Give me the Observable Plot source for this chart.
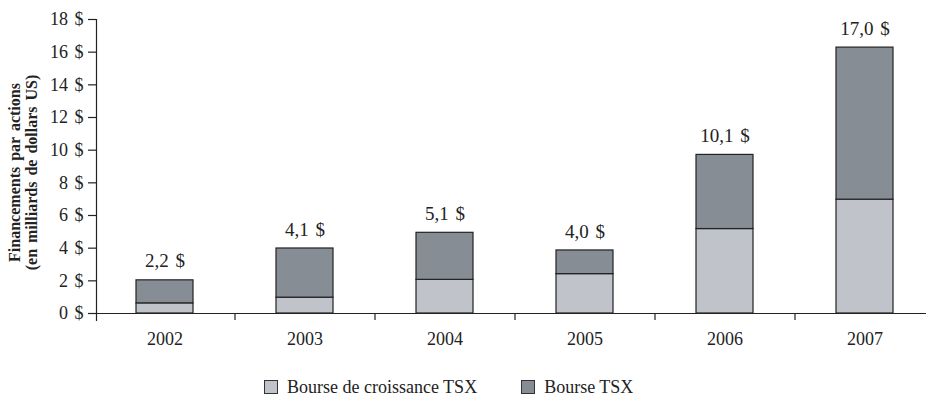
<!DOCTYPE html>
<html>
<head>
<meta charset="utf-8">
<script src="https://cdn.jsdelivr.net/npm/d3@7"></script>
<script src="https://cdn.jsdelivr.net/npm/@observablehq/plot@0.6"></script>
<style>
  html, body { margin: 0; padding: 0; background: #fff; }
  body { width: 926px; font-family: "Liberation Serif", "Times New Roman", serif; color: #222; }
  #chart svg, #chart svg text { font-family: "Liberation Serif", "Times New Roman", serif !important; }
  #chart svg text { word-spacing: 2px; }
  .legend { display: flex; align-items: center; height: 40px; padding-top: 7px; margin-left: 264px; gap: 44px; font-size: 18px; }
  .legend .item { display: flex; align-items: center; gap: 9px; }
  .legend .sw { width: 14px; height: 14px; border: 1px solid #333; box-sizing: border-box; }
</style>
</head>
<body>
<div id="chart"></div>
<div class="legend" id="legend"></div>
<script>
const years = ["2002", "2003", "2004", "2005", "2006", "2007"];
const seriesNames = ["Bourse de croissance TSX", "Bourse TSX"];
const croissanceValues = [0.62, 0.97, 2.06, 2.41, 5.17, 6.97];
const tsxValues = [1.41, 3.01, 2.88, 1.45, 4.54, 9.31];
const totalLabels = ["2,2 $", "4,1 $", "5,1 $", "4,0 $", "10,1 $", "17,0 $"];
const yTicks = [0, 2, 4, 6, 8, 10, 12, 14, 16, 18];
const yTitle = "Financements par actions\n(en milliards de dollars US)";
const colors = ["#c1c3ca", "#878d94"];

const rows = [];
years.forEach((y, i) => {
  rows.push({year: y, series: seriesNames[0], value: croissanceValues[i]});
  rows.push({year: y, series: seriesNames[1], value: tsxValues[i]});
});
const totals = years.map((y, i) => ({year: y, total: croissanceValues[i] + tsxValues[i], label: totalLabels[i]}));

const W = 926, H = 360, mL = 96, mR = -6, mT = 19, mB = 47;
const pI = 0.593, pO = 0.282;
const step = (W - mL - mR) / (years.length - pI + 2 * pO);

const font = "Liberation Serif";
const chart = Plot.plot({
  width: W, height: H,
  marginLeft: mL, marginRight: mR, marginTop: mT, marginBottom: mB,
  style: {fontFamily: font, fontSize: "18px", color: "#222", background: "#fff", overflow: "visible"},
  x: {domain: years, paddingInner: pI, paddingOuter: pO, axis: null},
  y: {domain: [0, 18], axis: null},
  color: {domain: seriesNames, range: colors},
  marks: [
    Plot.barY(rows, {x: "year", y: "value", fill: "series", stroke: "#222", strokeWidth: 1.2, order: seriesNames}),
    Plot.ruleY([0], {stroke: "#222", strokeWidth: 1.2}),
    Plot.frame({anchor: "left", insetBottom: -7, stroke: "#222", strokeWidth: 1.2}),
    Plot.axisY({ticks: yTicks, tickFormat: d => `${d} $`, tickSize: 8, tickPadding: 5, fontSize: 18, fontFamily: font, stroke: "#222", strokeWidth: 1.2, label: null}),
    Plot.axisX({ticks: years.slice(1), tickSize: 7, tickFormat: () => "", dx: -step / 2, stroke: "#222", strokeWidth: 1.2, label: null}),
    Plot.axisX({tickSize: 0, tickPadding: 19, fontSize: 18, fontFamily: font, label: null}),
    Plot.text(totals, {x: "year", y: "total", text: "label", dy: -19, fontSize: 19, fontFamily: font, fill: "#222"}),
    Plot.text([yTitle], {frameAnchor: "left", textAnchor: "middle", rotate: -90, dx: -73, dy: 6, fontSize: 16, fontWeight: "bold", fontFamily: font, lineHeight: 1.06, fill: "#222"})
  ]
});
document.getElementById("chart").append(chart);

const legend = document.getElementById("legend");
seriesNames.forEach((name, i) => {
  const item = document.createElement("div");
  item.className = "item";
  const sw = document.createElement("div");
  sw.className = "sw";
  sw.style.background = colors[i];
  const t = document.createElement("span");
  t.textContent = name;
  item.append(sw, t);
  legend.append(item);
});
</script>
</body>
</html>
